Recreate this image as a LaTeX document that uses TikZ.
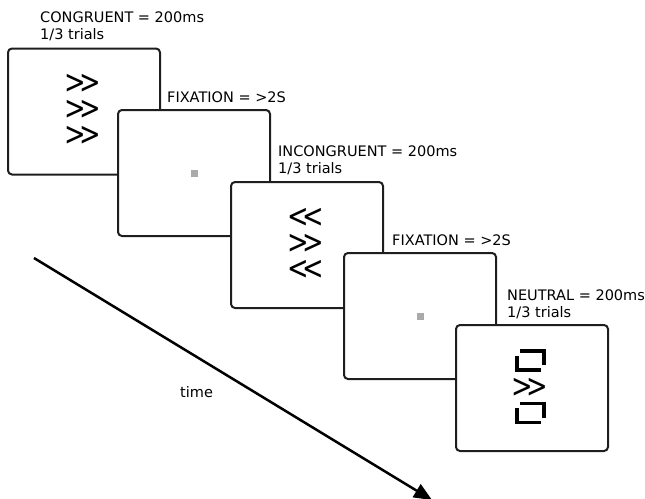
\documentclass[tikz,border=0pt]{standalone}
\usepackage{fontspec}
\setmainfont{DejaVu Sans}
\usetikzlibrary{arrows.meta}
\definecolor{edgegray}{RGB}{30,30,30}
\definecolor{dotgray}{RGB}{170,170,170}
\newcommand{\rchev}{>\kern-0.24em>}
\newcommand{\lchev}{<\kern-0.24em<}

\begin{document}
\begin{tikzpicture}[
  x=1pt, y=-1pt,
  screen/.style={
    draw=edgegray,
    line width=2pt,
    rounded corners=4pt,
    fill=white,
    minimum width=152pt,
    minimum height=126pt,
    inner sep=0
  },
  cue/.style={
    font=\fontsize{14.5}{16.5}\selectfont,
    align=left,
    inner sep=0,
    anchor=base west
  },
  flank/.style={
    font=\fontsize{33}{26}\selectfont,
    align=center,
    inner sep=0,
    xscale=0.78,
    transform shape
  },
  fixdot/.style={fill=dotgray, minimum size=7pt, inner sep=0},
  nsquare/.pic={
    \draw[line width=3.5pt] (-10.5,-9.5) -- (13.5,-9.5) -- (13.5,4.5);
    \draw[line width=3.5pt] (-13.5,-5) -- (-13.5,9.5) -- (10.5,9.5);
  }
]
\useasboundingbox (0,0) rectangle (645,498);

% -------- Time axis --------
\coordinate (t0) at (34,258);
\coordinate (t1) at (432,500);
\draw[line width=2.5pt, -{Triangle[length=18pt,width=15pt]}] (t0) -- (t1);
\node[cue] (tlabel) at (180,397) {time};

% -------- Congruent --------
\node[screen] (s1) at (84,111.5) {};
\node[flank] (f1) at (82.5,110) {\rchev\\\rchev\\\rchev};
\node[cue] (c1) at (40,39) {CONGRUENT = 200ms\\1/3 trials};

% -------- Fixation --------
\node[screen] (s2) at (194,173) {};
\node[fixdot] (d2) at (s2.center) {};
\node[cue] (c2) at (167,102) {FIXATION = >2S};

% -------- Incongruent --------
\node[screen] (s3) at (307,245) {};
\node[flank] (f3) at (306,244) {\lchev\\\rchev\\\lchev};
\node[cue] (c3) at (278,173) {INCONGRUENT = 200ms\\1/3 trials};

% -------- Fixation --------
\node[screen] (s4) at (420,316) {};
\node[fixdot] (d4) at (s4.center) {};
\node[cue] (c4) at (392,245) {FIXATION = >2S};

% -------- Neutral --------
\node[screen] (s5) at (532,388) {};
\pic at (530.5,360.5) {nsquare};
\node[flank] (f5) at (530,387.5) {\rchev};
\pic at (530.5,413) {nsquare};
\node[cue] (c5) at (507,317) {NEUTRAL = 200ms\\1/3 trials};

\end{tikzpicture}
\end{document}
